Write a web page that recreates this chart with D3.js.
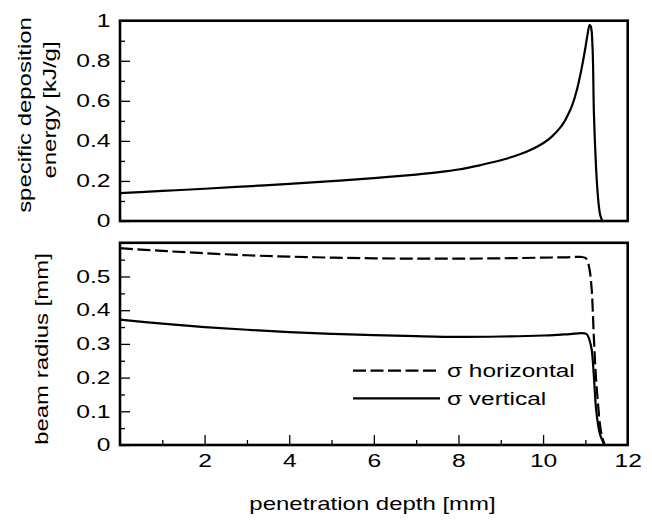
<!DOCTYPE html>
<html><head><meta charset="utf-8">
<script src="https://cdn.jsdelivr.net/npm/d3@7"></script>
<style>
body{margin:0;background:#fff}
svg text{font-family:"Liberation Sans",Arial,Helvetica,sans-serif;fill:#000}
</style>
</head><body>
<svg id="chart" width="652" height="521"></svg>
<script>
// ---- data ----
const depthTop = [0,1,2,3,4,5,6,7,7.5,8,8.5,9,9.5,9.8,10.0,10.2,10.4,10.5,10.6,10.7,10.8,10.9,10.95,11.0,11.05,11.1,11.13,11.17,11.2,11.23,11.27,11.31,11.35,11.4];
const energy   = [0.139,0.150,0.161,0.173,0.185,0.199,0.214,0.232,0.243,0.257,0.278,0.303,0.337,0.365,0.388,0.42,0.465,0.495,0.535,0.585,0.655,0.75,0.805,0.865,0.93,0.978,0.97,0.86,0.55,0.37,0.20,0.09,0.03,0.0];

const depthH = [0,1,2,3,4,5,6,7,8,9,10,10.5,10.9,11.0,11.05,11.1,11.15,11.2,11.25,11.3,11.35,11.4,11.46];
const sigmaH = [0.584,0.576,0.569,0.563,0.559,0.556,0.554,0.553,0.553,0.554,0.556,0.557,0.558,0.555,0.545,0.52,0.46,0.32,0.2,0.12,0.055,0.022,0.0];

const depthV = [0,1,2,3,4,5,6,7,8,9,10,10.5,11.0,11.05,11.1,11.15,11.2,11.25,11.3,11.35,11.42,11.45];
const sigmaV = [0.372,0.360,0.350,0.342,0.335,0.330,0.326,0.323,0.321,0.322,0.325,0.328,0.331,0.326,0.31,0.282,0.205,0.11,0.06,0.03,0.008,0.0];

const depthTicks  = [2,4,6,8,10,12];
const depthMinor  = [1,3,5,7,9,11];
const energyTicks = [0,0.2,0.4,0.6,0.8,1];
const energyMinor = [0.1,0.3,0.5,0.7,0.9];
const radiusTicks = [0,0.1,0.2,0.3,0.4,0.5];
const radiusMinor = [0.05,0.15,0.25,0.35,0.45,0.55];

const legendLabels = ["σ horizontal","σ vertical"];
const yTitleTop = ["specific deposition","energy [kJ/g]"];
const yTitleBottom = "beam radius [mm]";
const xTitle = "penetration depth [mm]";

// ---- layout ----
const SX = 1.37; // horizontal glyph stretch of reference font
const L = 120, R = 627.7;
const topT = 20.7, topB = 221;
const botT = 242.8, botB = 445;

const svg = d3.select("#chart");
const x = d3.scaleLinear([0,12],[L,R]);
const yE = d3.scaleLinear([0,1],[topB,topT]);
const yR = d3.scaleLinear([0,0.6],[botB,botT]);

function leftAxis(scale, major, minor, fmt){
  const g = svg.append("g").attr("transform",`translate(${L},0)`);
  g.call(d3.axisLeft(scale).tickValues(major).tickSizeInner(-10).tickSizeOuter(0).tickPadding(9.5).tickFormat(fmt));
  g.select(".domain").remove();
  g.selectAll(".tick line").attr("stroke","#000").attr("stroke-width",1.3);
  g.selectAll(".tick text").attr("font-size",18).attr("font-family",null)
    .attr("transform",`translate(-9.5,0) scale(${SX},1)`).attr("x",0);
  const m = svg.append("g").attr("transform",`translate(${L},0)`);
  m.call(d3.axisLeft(scale).tickValues(minor).tickSizeInner(-5).tickSizeOuter(0).tickFormat(""));
  m.select(".domain").remove();
  m.selectAll(".tick line").attr("stroke","#000").attr("stroke-width",1.3);
}
leftAxis(yE, energyTicks, energyMinor, d=>d3.format("")(+d.toFixed(1)));
leftAxis(yR, radiusTicks, radiusMinor, d=>d3.format("")(+d.toFixed(1)));

// bottom axis of lower panel
const gx = svg.append("g").attr("transform",`translate(0,${botB})`);
gx.call(d3.axisBottom(x).tickValues(depthTicks).tickSizeInner(-10).tickSizeOuter(0).tickPadding(9));
gx.select(".domain").remove();
gx.selectAll(".tick line").attr("stroke","#000").attr("stroke-width",1.3);
gx.selectAll(".tick text").attr("font-size",18).attr("font-family",null)
  .attr("transform",`scale(${SX},1)`);
const gxm = svg.append("g").attr("transform",`translate(0,${botB})`);
gxm.call(d3.axisBottom(x).tickValues(depthMinor).tickSizeInner(-5).tickSizeOuter(0).tickFormat(""));
gxm.select(".domain").remove();
gxm.selectAll(".tick line").attr("stroke","#000").attr("stroke-width",1.3);

// curves
const smooth = d3.curveCatmullRom.alpha(0.5);
const lineE = d3.line().x((d,i)=>x(depthTop[i])).y(d=>yE(d)).curve(smooth);
svg.append("path").attr("d",lineE(energy)).attr("fill","none").attr("stroke","#000").attr("stroke-width",2.2);

const lineH = d3.line().x((d,i)=>x(depthH[i])).y(d=>yR(d)).curve(smooth);
svg.append("path").attr("d",lineH(sigmaH)).attr("fill","none").attr("stroke","#000").attr("stroke-width",2.2).attr("stroke-dasharray","13,4.5");

const lineV = d3.line().x((d,i)=>x(depthV[i])).y(d=>yR(d)).curve(smooth);
svg.append("path").attr("d",lineV(sigmaV)).attr("fill","none").attr("stroke","#000").attr("stroke-width",2.2);

// frames
[[topT,topB],[botT,botB]].forEach(([t,b])=>{
  svg.append("rect").attr("x",L).attr("y",t).attr("width",R-L).attr("height",b-t)
    .attr("fill","none").attr("stroke","#000").attr("stroke-width",2.6);
});

// legend
const legY = [370.7, 398.3];
legendLabels.forEach((lab,i)=>{
  svg.append("line").attr("x1",353).attr("x2",440).attr("y1",legY[i]).attr("y2",legY[i])
    .attr("stroke","#000").attr("stroke-width",2.2).attr("stroke-dasharray", i===0 ? "13,4.5" : null);
  svg.append("text").attr("transform",`translate(447,${legY[i]+6.5}) scale(1.32,1)`)
    .attr("font-size",18.5).text(lab);
});

// titles
svg.append("text").attr("transform",`translate(${372.5},510) scale(${SX},1)`)
  .attr("text-anchor","middle").attr("font-size",17.5).text(xTitle);
svg.append("text").attr("transform",`translate(31,115) rotate(-90) scale(${SX},1)`)
  .attr("text-anchor","middle").attr("font-size",17.5).text(yTitleTop[0]);
svg.append("text").attr("transform",`translate(56,110) rotate(-90) scale(${SX},1)`)
  .attr("text-anchor","middle").attr("font-size",17.5).text(yTitleTop[1]);
svg.append("text").attr("transform",`translate(48,349) rotate(-90) scale(${SX},1)`)
  .attr("text-anchor","middle").attr("font-size",17.5).text(yTitleBottom);
</script>
</body></html>
